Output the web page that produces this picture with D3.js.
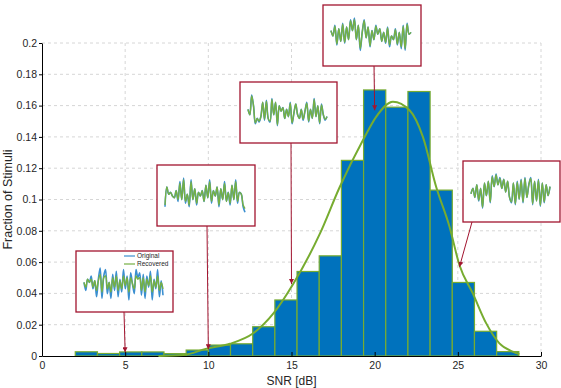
<!DOCTYPE html>
<html>
<head>
<meta charset="utf-8">
<script src="https://cdn.jsdelivr.net/npm/d3@7"></script>
<style>
  body { margin: 0; background: #fff; }
  svg { font-family: "Liberation Sans", Arial, sans-serif; }
</style>
</head>
<body>
<svg width="561" height="388"></svg>
<script>
// histograma de SNR (20 bins de 2 a 28.67 dB)
var binStart = 2, binWidth = 4 / 3;
var fractions = [0.0027, 0.0016, 0.0026, 0.0026, 0.0015, 0.0038, 0.007, 0.0078, 0.0187, 0.0358,
                 0.054, 0.064, 0.125, 0.170, 0.159, 0.169, 0.106, 0.047, 0.0158, 0.0028];

// curva ajustada
var fitX = [7, 8.5, 9.9, 11.3, 12.7, 13.9, 15.1, 16.7, 17.9, 19.3, 20.1, 21.1, 22.1, 22.9, 23.7, 24.5, 25.1, 25.9, 26.7, 27.5, 28.3, 28.7];
var fitY = [0, 0.0006, 0.0047, 0.0078, 0.0145, 0.027, 0.046, 0.078, 0.108, 0.138, 0.153, 0.1625, 0.157, 0.140, 0.108, 0.0826, 0.058, 0.040, 0.021, 0.0081, 0.0028, 0.0012];

var xTicks = [0, 5, 10, 15, 20, 25, 30];
var yTicks = [0, 0.02, 0.04, 0.06, 0.08, 0.1, 0.12, 0.14, 0.16, 0.18, 0.2];

// flechas: SNR al que apunta cada recuadro
var arrowX = [5, 10, 15, 20, 25.1];
var arrowY = [0.0024, 0.0043, 0.046, 0.157, 0.057];

// formas de onda de cada recuadro (original / recuperada)
var wave1Orig = [0.1, -0.4, 0.3, 0.1, 0.5, -0.3, 0.2, -0.8, 0.3, 1.0, -0.9, 0.5, 0.9, -0.6, 0.1, -0.9, 0.6, -0.4, 0.8, -0.8, 0.3, -0.5, 0.9, -0.3, 0.5, -1.0, 0.7, 0.0, -0.6, 0.9, 0.4, 0.7, -0.7, 0.6, -0.9, 0.5, -0.2, 0.8, -1.0, 0.3, -0.3, 0.9, -0.8, 0.2, -0.7];
var wave1Rec  = [0.1, -0.2, 0.3, 0.1, 0.3, -0.2, 0.2, -0.4, 0.2, 0.6, -0.5, 0.4, 0.5, -0.3, 0.1, -0.5, 0.4, -0.2, 0.5, -0.4, 0.2, -0.3, 0.5, -0.1, 0.4, -0.5, 0.4, 0.0, -0.3, 0.5, 0.3, 0.4, -0.4, 0.4, -0.5, 0.3, -0.1, 0.5, -0.5, 0.2, -0.2, 0.5, -0.4, 0.1, -0.3];
var wave2Orig = [-0.6, 0.5, 0.1, 0.2, 0.0, -0.1, 0.3, -0.3, 0.8, -0.2, 1.0, -0.4, 0.1, -0.6, 0.9, -0.2, 0.4, -0.5, 0.2, 0.0, 0.3, -0.3, 0.6, -0.1, 0.9, -0.4, 0.3, 0.0, 0.5, -0.6, 0.4, -0.2, 0.8, -0.3, 0.2, -0.5, 0.6, -0.2, 0.9, -0.4, 0.2, 0.1, -0.6, -0.9];
var wave2Rec  = [-0.5, 0.5, 0.1, 0.2, 0.0, -0.1, 0.3, -0.2, 0.7, -0.2, 0.9, -0.3, 0.1, -0.5, 0.8, -0.2, 0.4, -0.4, 0.2, 0.0, 0.3, -0.3, 0.6, -0.1, 0.8, -0.3, 0.3, 0.0, 0.5, -0.5, 0.4, -0.2, 0.7, -0.3, 0.2, -0.4, 0.6, -0.2, 0.8, -0.3, 0.2, 0.1, -0.5, -0.7];
var wave3Orig = [0.2, -0.1, 1.0, 0.4, -0.6, -0.3, -0.5, -0.2, 0.6, -0.4, 0.7, -0.3, -0.5, 0.8, -0.1, 0.6, -0.7, 0.4, 0.1, 0.3, -0.3, 0.2, -0.2, 0.6, -0.6, 0.0, 0.5, -0.1, -0.3, 0.2, -0.4, 0.1, 0.6, -0.5, 0.2, -0.3, 0.8, -0.2, 0.4, -0.6, 0.5, -0.1, -0.4, -0.2];
var wave3Rec  = [0.2, -0.1, 0.95, 0.4, -0.55, -0.3, -0.45, -0.2, 0.6, -0.35, 0.65, -0.3, -0.45, 0.75, -0.1, 0.6, -0.65, 0.4, 0.1, 0.3, -0.3, 0.2, -0.2, 0.55, -0.55, 0.0, 0.5, -0.1, -0.3, 0.2, -0.35, 0.1, 0.55, -0.45, 0.2, -0.3, 0.75, -0.2, 0.4, -0.55, 0.45, -0.1, -0.35, -0.2];
var wave4Orig = [0.3, 0.0, 0.6, -0.5, 0.4, -0.3, 0.7, -0.4, 0.5, -0.2, 0.9, 0.3, 1.0, -0.2, 0.6, -0.8, 0.2, 0.9, -0.1, 0.5, -0.6, 0.3, -0.2, 0.6, 0.1, 0.4, -0.3, 0.2, -0.4, 0.5, -0.6, 0.0, -0.2, 0.4, -0.5, 0.2, -0.7, 0.6, -0.8, 0.7, 0.1, 0.2];
var wave4Rec  = [0.3, 0.0, 0.55, -0.45, 0.4, -0.3, 0.65, -0.35, 0.5, -0.2, 0.85, 0.3, 0.9, -0.2, 0.6, -0.7, 0.2, 0.85, -0.1, 0.5, -0.55, 0.3, -0.2, 0.55, 0.1, 0.4, -0.3, 0.2, -0.35, 0.45, -0.5, 0.0, -0.2, 0.35, -0.45, 0.2, -0.6, 0.55, -0.7, 0.65, 0.1, 0.2];
var wave5Orig = [-0.1, 0.2, -0.3, 0.4, -0.5, 0.2, -0.9, 0.5, -0.2, 0.6, -0.6, 0.9, 0.3, 1.0, 0.4, 0.8, 0.2, 0.7, 0.0, 0.6, -0.3, -0.6, 0.5, -0.7, 0.6, -0.4, 0.7, -0.6, 0.8, -0.3, 0.4, 0.8, -0.7, 0.6, -0.5, 0.7, -0.8, 0.5, -0.6, 0.4, -0.2, 0.3];
var wave5Rec  = [-0.1, 0.2, -0.3, 0.4, -0.45, 0.2, -0.85, 0.5, -0.2, 0.6, -0.55, 0.85, 0.3, 0.95, 0.4, 0.75, 0.2, 0.7, 0.0, 0.6, -0.3, -0.55, 0.5, -0.65, 0.55, -0.4, 0.65, -0.55, 0.75, -0.3, 0.4, 0.75, -0.65, 0.6, -0.5, 0.65, -0.75, 0.5, -0.55, 0.4, -0.2, 0.3];

var waves = [[wave1Orig, wave1Rec], [wave2Orig, wave2Rec], [wave3Orig, wave3Rec], [wave4Orig, wave4Rec], [wave5Orig, wave5Rec]];

// recuadros en pixeles [x, y, ancho, alto]
var boxes = [[76, 251, 97, 61], [157, 165, 98, 61], [240, 82, 97, 61], [323, 5, 98, 61], [463, 161, 97, 61]];

var svg = d3.select("svg");
var plotLeft = 42, plotRight = 541, plotTop = 43, plotBottom = 356;

var x = d3.scaleLinear().domain([0, 30]).range([plotLeft, plotRight]);
var y = d3.scaleLinear().domain([0, 0.2]).range([plotBottom, plotTop]);

var blue = "#0072BD", green = "#77AC30", red = "#A2142F";

// rejilla
svg.append("g").selectAll("line")
  .data(yTicks.slice(1))
  .enter().append("line")
    .attr("x1", plotLeft).attr("x2", plotRight)
    .attr("y1", function(d) { return y(d); }).attr("y2", function(d) { return y(d); })
    .attr("stroke", "#d6d6d6").attr("stroke-dasharray", "3,3");

svg.append("g").selectAll("line")
  .data(xTicks.slice(1))
  .enter().append("line")
    .attr("x1", function(d) { return x(d); }).attr("x2", function(d) { return x(d); })
    .attr("y1", plotTop).attr("y2", plotBottom)
    .attr("stroke", "#d6d6d6").attr("stroke-dasharray", "3,3");

// barras
svg.append("g").selectAll("rect")
  .data(fractions)
  .enter().append("rect")
    .attr("x", function(d, i) { return x(binStart + i * binWidth); })
    .attr("y", function(d) { return y(d); })
    .attr("width", x(binWidth) - x(0))
    .attr("height", function(d) { return y(0) - y(d); })
    .attr("fill", blue)
    .attr("stroke", green)
    .attr("stroke-width", 1.2);

// ejes
svg.append("g")
    .attr("transform", "translate(0," + plotBottom + ")")
    .call(d3.axisBottom(x).tickValues(xTicks).tickSizeInner(-4).tickSizeOuter(0).tickPadding(6))
    .call(function(g) {
      g.select(".domain").attr("stroke", "#000");
      g.selectAll(".tick line").attr("stroke", "#000");
      g.selectAll("text").attr("font-size", 10.5).attr("fill", "#262626");
    });

svg.append("g")
    .attr("transform", "translate(" + plotLeft + ",0)")
    .call(d3.axisLeft(y).tickValues(yTicks).tickFormat(d3.format("~g")).tickSizeInner(3).tickSizeOuter(0).tickPadding(2))
    .call(function(g) {
      g.select(".domain").attr("stroke", "#000");
      g.selectAll(".tick line").attr("stroke", "#000");
      g.selectAll("text").attr("font-size", 10.5).attr("fill", "#262626");
    });

svg.append("text")
    .attr("x", (plotLeft + plotRight) / 2).attr("y", 385)
    .attr("text-anchor", "middle").attr("font-size", 12).attr("fill", "#262626")
    .text("SNR [dB]");

svg.append("text")
    .attr("transform", "translate(12," + ((plotTop + plotBottom) / 2) + ") rotate(-90)")
    .attr("text-anchor", "middle").attr("font-size", 12.5).attr("fill", "#262626")
    .text("Fraction of Stimuli");

// curva ajustada
var fitLine = d3.line()
    .x(function(d) { return x(d[0]); })
    .y(function(d) { return y(d[1]); })
    .curve(d3.curveMonotoneX);

svg.append("path")
    .datum(d3.zip(fitX, fitY))
    .attr("d", fitLine)
    .attr("fill", "none")
    .attr("stroke", green)
    .attr("stroke-width", 2);

// flechas y recuadros
var defs = svg.append("defs");
defs.append("marker")
    .attr("id", "head")
    .attr("viewBox", "0 0 10 10")
    .attr("refX", 10).attr("refY", 5)
    .attr("markerWidth", 5).attr("markerHeight", 5)
    .attr("orient", "auto")
  .append("path")
    .attr("d", "M0,0L10,5L0,10z")
    .attr("fill", red);

var arrowFrom = [124, 207, 291, 374, 472];

boxes.forEach(function(b, k) {
  svg.append("line")
      .attr("x1", arrowFrom[k]).attr("y1", b[1] + b[3])
      .attr("x2", x(arrowX[k])).attr("y2", y(arrowY[k]))
      .attr("stroke", red).attr("stroke-width", 1)
      .attr("marker-end", "url(#head)");

  svg.append("rect")
      .attr("x", b[0]).attr("y", b[1])
      .attr("width", b[2]).attr("height", b[3])
      .attr("fill", "#fff").attr("stroke", red).attr("stroke-width", 1.3);

  var orig = waves[k][0], rec = waves[k][1];
  var wx = d3.scaleLinear().domain([0, orig.length - 1]).range([b[0] + 8, b[0] + b[2] - 10]);
  var wy = d3.scaleLinear().domain([-1, 1]).range([b[1] + b[3] - 12, b[1] + (k === 0 ? 17 : 13)]);
  var wl = d3.line().x(function(d, i) { return wx(i); }).y(function(d) { return wy(d); }).curve(d3.curveCatmullRom);

  svg.append("path").datum(orig).attr("d", wl)
      .attr("fill", "none").attr("stroke", "#3b8fd0").attr("stroke-width", 1.6);
  svg.append("path").datum(rec).attr("d", wl)
      .attr("fill", "none").attr("stroke", "#76b043").attr("stroke-width", 1.4);
});

// leyenda del primer recuadro
var legendNames = ["Original", "Recovered"];
var legendColors = ["#3b8fd0", "#76b043"];
legendNames.forEach(function(name, i) {
  var ly = 256 + i * 8;
  svg.append("line")
      .attr("x1", 124).attr("x2", 135).attr("y1", ly).attr("y2", ly)
      .attr("stroke", legendColors[i]).attr("stroke-width", 1.2);
  svg.append("text")
      .attr("x", 137).attr("y", ly + 2.2)
      .attr("font-size", 6.5).attr("fill", "#262626")
      .text(name);
});
</script>
</body>
</html>
